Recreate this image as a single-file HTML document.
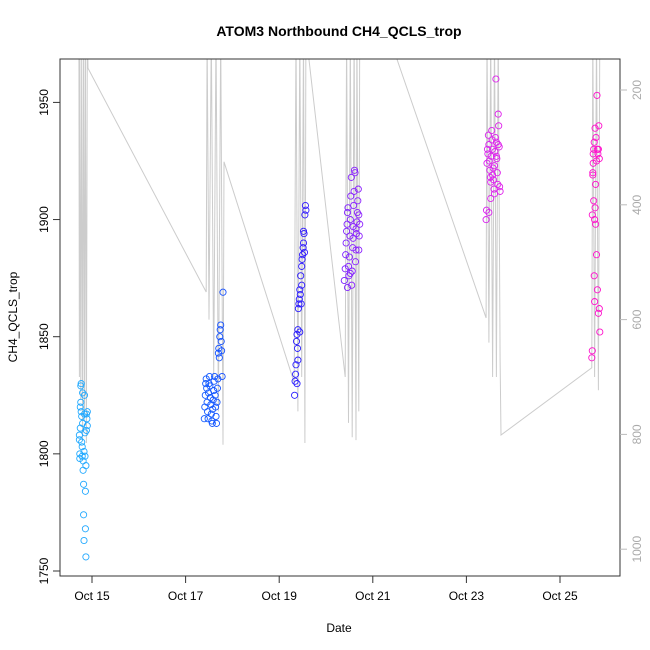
<!DOCTYPE html>
<html><head><meta charset="utf-8"><style>
html,body{margin:0;padding:0;background:#fff;}
svg{display:block;font-family:"Liberation Sans",Arial,sans-serif;}
</style></head><body>
<svg id="chart" width="650" height="650" viewBox="0 0 650 650">
<text x="339" y="36" text-anchor="middle" font-size="14" font-weight="bold">ATOM3 Northbound CH4_QCLS_trop</text>
<text x="339" y="632" text-anchor="middle" font-size="12">Date</text>
<text transform="translate(17,317) rotate(-90)" text-anchor="middle" font-size="12">CH4_QCLS_trop</text>
<defs><clipPath id="pc"><rect x="60" y="59" width="560" height="517"/></clipPath></defs>
<g id="press" clip-path="url(#pc)"></g>
<g id="pts" clip-path="url(#pc)"></g>
<rect x="60" y="59" width="560" height="517" fill="none" stroke="#333" stroke-width="1"/>
<g id="axes"></g>
</svg>
<script>
// time in days relative to Oct 15 00:00
const xTicks = [0, 2, 4, 6, 8, 10];
const xTickLabels = ["Oct 15", "Oct 17", "Oct 19", "Oct 21", "Oct 23", "Oct 25"];
const yTicks = [1750, 1800, 1850, 1900, 1950];
const pTicks = [200, 400, 600, 800, 1000];
const ch4Times = [
-0.27,-0.27,-0.26,-0.26,-0.25,-0.25,-0.24,-0.24,-0.23,-0.23,-0.22,-0.22,-0.21,-0.21,-0.20,-0.20,-0.19,-0.19,-0.18,-0.18,-0.17,-0.17,-0.16,-0.16,-0.15,-0.15,-0.14,-0.14,-0.13,-0.13,-0.12,-0.12,-0.11,-0.10,-0.10,
2.40,2.41,2.42,2.43,2.44,2.45,2.46,2.47,2.48,2.49,2.50,2.51,2.52,2.53,2.54,2.55,2.56,2.57,2.58,2.59,2.60,2.61,2.62,2.63,2.64,2.65,2.66,2.67,2.68,2.69,2.70,2.71,2.72,2.73,2.74,2.75,2.76,2.77,2.78,2.80,
4.33,4.34,4.35,4.36,4.37,4.38,4.39,4.40,4.41,4.42,4.43,4.44,4.45,4.46,4.47,4.48,4.49,4.50,4.51,4.52,4.53,4.54,4.55,4.56,4.57,4.38,4.40,4.44,4.48,4.52,
5.39,5.41,5.42,5.43,5.44,5.45,5.46,5.47,5.48,5.49,5.50,5.51,5.52,5.53,5.54,5.55,5.56,5.57,5.58,5.59,5.60,5.61,5.62,5.63,5.64,5.65,5.66,5.67,5.68,5.69,5.70,5.71,5.72,5.46,5.52,5.58,5.64,5.70,
8.42,8.43,8.44,8.45,8.46,8.47,8.48,8.49,8.50,8.51,8.52,8.53,8.54,8.55,8.56,8.57,8.58,8.59,8.60,8.61,8.62,8.63,8.64,8.65,8.66,8.67,8.68,8.69,8.70,8.71,8.72,8.48,8.52,8.56,8.60,8.64,8.68,
10.68,10.69,10.70,10.71,10.72,10.73,10.74,10.75,10.76,10.77,10.78,10.79,10.80,10.81,10.82,10.83,10.84,10.85,10.70,10.72,10.74,10.76,10.78,10.80,10.82,10.84,10.69,10.71,10.73,10.75];
const ch4Values = [
1808,1806,1798,1800,1811,1820,1829,1822,1830,1818,1816,1805,1803,1799,1826,1813,1797,1793,1787,1774,1763,1801,1825,1817,1809,1799,1784,1768,1756,1795,1810,1817,1815,1812,1818,
1815,1820,1825,1830,1832,1828,1822,1818,1815,1826,1830,1833,1829,1824,1821,1817,1814,1813,1819,1823,1827,1831,1833,1825,1820,1816,1813,1822,1828,1832,1843,1845,1841,1850,1853,1855,1848,1844,1833,1869,
1825,1831,1834,1838,1848,1851,1845,1853,1862,1864,1866,1870,1868,1876,1864,1880,1883,1885,1888,1895,1894,1886,1902,1906,1904,1830,1840,1852,1872,1890,
1874,1879,1885,1890,1895,1898,1903,1905,1880,1876,1884,1893,1900,1910,1918,1872,1878,1888,1897,1906,1912,1921,1920,1882,1887,1894,1899,1903,1908,1913,1887,1893,1898,1871,1877,1892,1896,1902,
1900,1904,1924,1930,1928,1936,1932,1925,1921,1918,1916,1927,1938,1934,1930,1922,1917,1913,1911,1929,1935,1960,1933,1926,1920,1915,1945,1940,1931,1914,1912,1903,1909,1919,1923,1927,1932,
1841,1844,1920,1928,1930,1876,1865,1905,1915,1935,1925,1953,1930,1928,1930,1940,1862,1852,1919,1908,1900,1898,1885,1870,1860,1926,1902,1924,1933,1939];
const pressTimes = [-0.28,-0.27,-0.26,-0.24,-0.22,-0.20,-0.18,-0.16,-0.14,-0.12,-0.10,-0.085,2.44,2.46,2.50,2.55,2.60,2.65,2.70,2.75,2.80,2.82,4.32,4.36,4.40,4.44,4.48,4.52,4.55,4.57,5.41,5.44,5.48,5.52,5.56,5.60,5.64,5.66,5.70,5.72,6.32,8.42,8.44,8.48,8.52,8.56,8.60,8.64,8.68,8.72,8.74,10.68,10.70,10.74,10.78,10.82,10.85];
const pressValues = [100,700,100,740,100,810,100,760,100,815,100,162,552,100,600,100,700,100,760,100,818,325,710,100,760,100,700,100,815,100,700,100,780,100,805,100,810,100,760,100,100,597,100,640,100,700,100,700,100,670,801,684,100,700,100,723,100];

const NS = "http://www.w3.org/2000/svg";
function xs(t){ return 92 + t * 46.8; }
function ys(v){ return 571 - (v - 1750) * 2.343; }
function ps(p){ return 90 + (p - 200) * 0.574; }
const anchors = [[-0.2,[34,170,255]],[2.6,[17,85,255]],[4.45,[42,26,255]],[5.55,[136,34,255]],[8.57,[221,34,238]],[10.77,[255,17,204]]];
function colorAt(t){
  if (t <= anchors[0][0]) return anchors[0][1];
  for (let i=1;i<anchors.length;i++){
    if (t <= anchors[i][0]){
      const a=anchors[i-1], b=anchors[i], f=(t-a[0])/(b[0]-a[0]);
      return a[1].map((c,k)=>Math.round(c+(b[1][k]-c)*f));
    }
  }
  return anchors[anchors.length-1][1];
}
function mk(tag, attrs, parent){
  const e=document.createElementNS(NS,tag);
  for (const k in attrs) e.setAttribute(k, attrs[k]);
  parent.appendChild(e); return e;
}
const press=document.getElementById('press');
let d='';
for (let i=0;i<pressTimes.length;i++) d += (i?'L':'M') + xs(pressTimes[i]).toFixed(1) + ',' + ps(pressValues[i]).toFixed(1);
const pl = mk('path',{d:d,fill:'none',stroke:'#cccccc','stroke-width':1},press);



const pts=document.getElementById('pts');
for (let i=0;i<ch4Times.length;i++){
  const c=colorAt(ch4Times[i]);
  const el=mk('circle',{cx:xs(ch4Times[i]).toFixed(1),cy:ys(ch4Values[i]).toFixed(1),r:3.1,fill:'none',stroke:'rgb('+c.join(',')+')','stroke-width':0.9},pts);
  
  
}
const ax=document.getElementById('axes');
for (let i=0;i<xTicks.length;i++){
  const x=xs(xTicks[i]);
  const tk=mk('line',{x1:x,x2:x,y1:576,y2:583,stroke:'#333'},ax);
  
  
  const tl=mk('text',{x:x,y:600,'text-anchor':'middle','font-size':12},ax);
  tl.textContent=xTickLabels[i];
  
  
}
for (const v of yTicks){
  const y=ys(v);
  const tk=mk('line',{x1:53,x2:60,y1:y,y2:y,stroke:'#333'},ax);
  
  
  const tl=mk('text',{transform:'translate(48,'+y+') rotate(-90)','text-anchor':'middle','font-size':12},ax);
  tl.textContent=v;
  
  
}
for (const p of pTicks){
  const y=ps(p);
  const tk=mk('line',{x1:620,x2:627,y1:y,y2:y,stroke:'#bbb'},ax);
  
  
  const tl=mk('text',{transform:'translate(641,'+y+') rotate(-90)','text-anchor':'middle','font-size':12,fill:'#aaa'},ax);
  tl.textContent=p;
  
  
}
</script>
</body></html>
